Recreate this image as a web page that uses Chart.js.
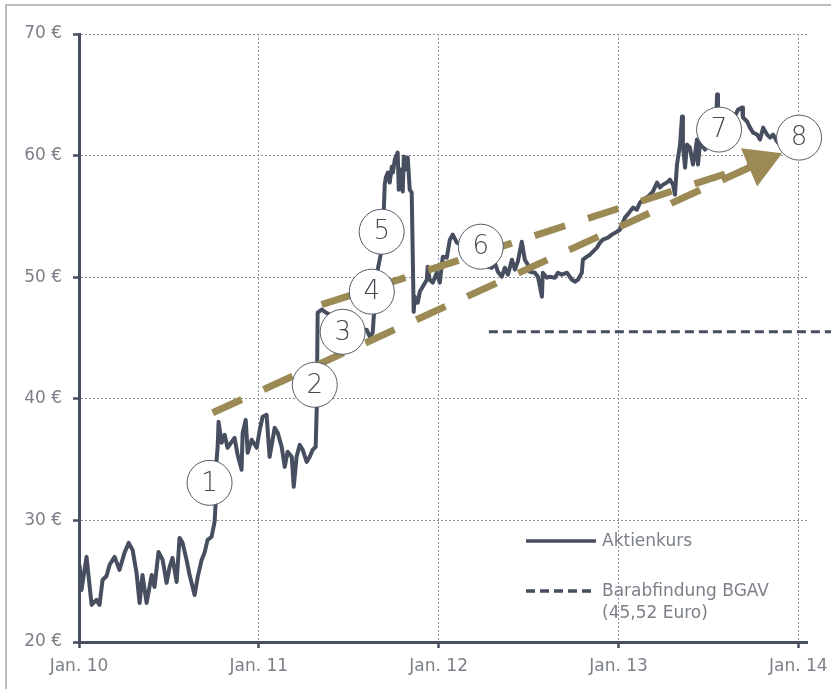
<!DOCTYPE html>
<html>
<head>
<meta charset="utf-8">
<script src="https://cdn.jsdelivr.net/npm/chart.js@4.4.1/dist/chart.umd.min.js"></script>
<style>
html,body{margin:0;padding:0;background:#fff;}
#wrap{position:relative;width:831px;height:689px;overflow:hidden;}
#frame{position:absolute;left:5px;top:4px;width:900px;height:800px;border-left:2px solid #b9bcc3;border-top:2px solid #b9bcc3;}
canvas{position:absolute;left:0;top:0;}
</style>
</head>
<body>
<div id="wrap"><div id="frame"></div><canvas id="c" width="831" height="689"></canvas></div>
<script>
// ---------- DATA ----------
const xTickYears = [2010, 2011, 2012, 2013, 2014];
const xTickLabels = ['Jan. 10', 'Jan. 11', 'Jan. 12', 'Jan. 13', 'Jan. 14'];
const yTickValues = [20, 30, 40, 50, 60, 70];

// Aktienkurs (decimal year, EUR)
const priceDates = [
  2010.003,2010.014,2010.042,2010.070,2010.097,2010.114,2010.131,2010.153,2010.170,2010.198,
  2010.225,2010.253,2010.276,2010.298,2010.320,2010.337,2010.353,2010.376,2010.404,2010.420,
  2010.442,2010.465,2010.487,2010.504,2010.520,2010.543,2010.559,2010.576,2010.598,2010.615,
  2010.643,2010.660,2010.682,2010.698,2010.715,2010.737,2010.754,2010.760,2010.765,2010.771,
  2010.776,2010.793,2010.810,2010.826,2010.849,2010.865,2010.882,2010.904,2010.910,2010.927,
  2010.938,2010.960,2010.988,2011.005,2011.021,2011.043,2011.060,2011.088,2011.105,2011.127,
  2011.144,2011.160,2011.183,2011.194,2011.210,2011.227,2011.244,2011.266,2011.283,2011.299,
  2011.316,2011.322,2011.327,2011.350,2011.366,2011.422,2011.478,2011.533,2011.589,2011.600,
  2011.617,2011.633,2011.639,2011.650,2011.661,2011.672,2011.683,2011.689,2011.695,2011.700,
  2011.706,2011.717,2011.728,2011.739,2011.745,2011.756,2011.772,2011.778,2011.789,2011.800,
  2011.806,2011.822,2011.828,2011.839,2011.850,2011.861,2011.867,2011.884,2011.895,2011.911,
  2011.934,2011.939,2011.950,2011.967,2011.989,2012.006,2012.023,2012.045,2012.062,2012.078,
  2012.101,2012.173,2012.229,2012.273,2012.296,2012.312,2012.329,2012.351,2012.368,2012.385,
  2012.407,2012.424,2012.440,2012.462,2012.479,2012.496,2012.507,2012.535,2012.552,2012.574,
  2012.579,2012.602,2012.618,2012.646,2012.663,2012.685,2012.713,2012.741,2012.757,2012.774,
  2012.796,2012.802,2012.824,2012.841,2012.858,2012.880,2012.897,2012.913,2012.941,2012.963,
  2012.991,2013.008,2013.019,2013.036,2013.063,2013.080,2013.102,2013.119,2013.136,2013.164,
  2013.191,2013.214,2013.230,2013.247,2013.269,2013.286,2013.303,2013.314,2013.325,2013.342,
  2013.353,2013.358,2013.370,2013.381,2013.397,2013.414,2013.425,2013.436,2013.442,2013.453,
  2013.481,2013.509,2013.542,2013.548,2013.553,2013.592,2013.637,2013.665,2013.687,2013.692,
  2013.715,2013.731,2013.748,2013.770,2013.787,2013.804,2013.826,2013.843,2013.859,2013.882,
  2013.898,2013.921
];
const prices = [
  26.34,24.28,27.00,23.05,23.46,23.05,25.10,25.43,26.34,27.00,
  25.93,27.33,28.15,27.57,25.68,23.21,25.51,23.21,25.51,24.53,
  27.41,26.75,24.86,26.17,26.91,24.94,28.56,28.15,26.75,25.51,
  23.87,25.35,26.75,27.33,28.40,28.64,29.88,31.44,34.98,36.05,
  38.11,36.38,37.04,35.97,36.46,36.79,35.39,34.16,37.20,38.27,
  35.56,36.63,35.97,37.45,38.52,38.68,35.23,37.61,37.20,36.05,
  34.40,35.64,35.23,32.76,35.23,36.21,35.80,34.81,35.23,35.80,
  36.05,39.26,47.08,47.33,47.16,46.67,46.09,45.84,45.68,45.68,
  45.10,45.43,46.75,48.50,50.62,51.44,52.26,54.00,55.56,57.61,
  58.19,58.60,57.78,59.09,58.60,59.67,60.25,57.20,58.85,57.04,
  59.92,58.85,59.84,57.20,56.95,47.16,48.40,47.90,48.81,49.22,
  49.79,50.86,49.79,49.55,50.37,49.55,51.69,51.60,53.09,53.50,
  52.84,52.43,51.85,50.86,50.78,51.19,50.45,50.04,50.78,50.21,
  51.44,50.62,51.28,52.92,51.44,51.03,50.45,50.37,50.04,48.40,
  50.37,49.96,50.04,49.96,50.37,50.21,50.37,49.79,49.63,49.79,
  50.37,51.44,51.69,51.85,52.10,52.43,52.84,53.09,53.25,53.50,
  53.74,53.91,54.32,54.90,55.39,55.72,55.56,56.13,56.38,56.63,
  57.04,57.78,57.37,57.61,57.78,58.02,57.61,56.79,59.26,60.91,
  63.21,60.91,59.01,60.91,60.66,59.26,60.08,61.32,59.26,61.07,
  60.49,61.32,62.20,65.02,62.55,62.14,62.96,63.79,63.95,63.13,
  62.80,62.30,61.89,61.73,61.32,62.30,61.73,61.48,61.73,61.15,
  60.91,60.66
];

// Barabfindung BGAV (45,52 Euro)
const cashDates = [2012.279, 2014.19];
const cashValues = [45.52, 45.52];

// Trend arrows
const trendLowerDates = [2010.743, 2013.787];
const trendLowerValues = [38.85, 59.42];
const trendUpperDates = [2011.349, 2013.787];
const trendUpperValues = [47.74, 59.42];
const arrowHeadDates = [2013.787];
const arrowHeadValues = [59.42];

// Numbered markers
const markerLabels = ['1', '2', '3', '4', '5', '6', '7', '8'];
const markerDates = [2010.726, 2011.311, 2011.466, 2011.628, 2011.683, 2012.234, 2013.559, 2014.004];
const markerValues = [33.09, 41.15, 45.51, 48.81, 53.74, 52.51, 62.14, 61.48];

// Legend texts
const legendTexts = [['Aktienkurs'], ['Barabfindung BGAV', '(45,52 Euro)']];

// ---------- STYLE ----------
const DARK = '#474e5f';
const GOLD = '#9c8a55';
const TEXT = '#7b7f88';
const FONT = '"DejaVu Sans", Verdana, sans-serif';

const pts = (xs, ys) => xs.map((x, i) => ({x: x, y: ys[i]}));

const markerLabelPlugin = {
  id: 'markerLabels',
  afterDatasetsDraw(chart) {
    const ctx = chart.ctx;
    const meta = chart.getDatasetMeta(0);
    ctx.save();
    ctx.font = '300 26px ' + FONT;
    ctx.fillStyle = '#45484f';
    ctx.textAlign = 'center';
    ctx.textBaseline = 'middle';
    meta.data.forEach((el, i) => ctx.fillText(markerLabels[i], el.x, el.y + 1));
    ctx.restore();
  }
};

const inlineLegendPlugin = {
  id: 'inlineLegend',
  afterDraw(chart) {
    const ctx = chart.ctx;
    const items = [
      {ds: chart.data.datasets[4], texts: legendTexts[0], y: 541},
      {ds: chart.data.datasets[5], texts: legendTexts[1], y: 591}
    ];
    ctx.save();
    items.forEach(it => {
      ctx.beginPath();
      ctx.lineWidth = 3.5;
      ctx.strokeStyle = it.ds.borderColor;
      ctx.setLineDash(it.ds.borderDash || []);
      ctx.moveTo(526, it.y);
      ctx.lineTo(596, it.y);
      ctx.stroke();
      ctx.setLineDash([]);
      ctx.font = '17px ' + FONT;
      ctx.fillStyle = TEXT;
      ctx.textAlign = 'left';
      ctx.textBaseline = 'middle';
      it.texts.forEach((t, k) => ctx.fillText(t, 602, it.y + 1 + k * 22));
    });
    ctx.restore();
  }
};

new Chart(document.getElementById('c'), {
  type: 'line',
  data: {
    datasets: [
      { // 0 markers
        label: 'Marker', data: pts(markerDates, markerValues), showLine: false,
        pointRadius: 22.5, pointBackgroundColor: '#ffffff', pointBorderColor: '#555b69',
        pointBorderWidth: 1, clip: false
      },
      { // 1 arrow head
        label: 'Pfeil', data: pts(arrowHeadDates, arrowHeadValues), showLine: false,
        pointStyle: 'triangle', pointRadius: 24, pointRotation: 67,
        pointBackgroundColor: GOLD, pointBorderWidth: 0, clip: false
      },
      { // 2 upper trend
        label: 'Trend oben', data: pts(trendUpperDates, trendUpperValues),
        borderColor: GOLD, borderWidth: 7, borderDash: [32, 24], borderCapStyle: 'butt',
        pointRadius: 0, clip: false
      },
      { // 3 lower trend
        label: 'Trend unten', data: pts(trendLowerDates, trendLowerValues),
        borderColor: GOLD, borderWidth: 7, borderDash: [32, 24], borderCapStyle: 'butt',
        pointRadius: 0, clip: false
      },
      { // 4 price
        label: 'Aktienkurs', data: pts(priceDates, prices),
        borderColor: DARK, borderWidth: 4, borderJoinStyle: 'round', pointRadius: 0, tension: 0
      },
      { // 5 cash compensation
        label: 'Barabfindung BGAV (45,52 Euro)', data: pts(cashDates, cashValues),
        borderColor: DARK, borderWidth: 3, borderDash: [9, 5], pointRadius: 0, clip: false
      }
    ]
  },
  options: {
    responsive: false,
    devicePixelRatio: 1,
    animation: false,
    events: [],
    layout: { padding: { top: 34, right: 24, left: 0, bottom: 0 } },
    plugins: { legend: { display: false }, tooltip: { enabled: false } },
    scales: {
      x: {
        type: 'linear', min: 2010, max: 2014.048,
        afterFit(s) { s.height = 47; s.paddingLeft = 0; s.paddingRight = 0; },
        afterBuildTicks(s) { s.ticks = xTickYears.map(v => ({value: v})); },
        ticks: {
          autoSkip: false, maxRotation: 0, padding: 8, color: TEXT,
          font: { family: FONT, size: 17 },
          callback: (v) => xTickLabels[xTickYears.indexOf(v)]
        },
        grid: { color: '#8e939c', lineWidth: 1, tickLength: 6, tickWidth: 2.5, tickColor: DARK },
        border: { color: DARK, width: 3, dash: [2, 2] }
      },
      y: {
        min: 20, max: 70,
        afterFit(s) { s.width = 79; s.paddingTop = 0; s.paddingBottom = 0; },
        afterBuildTicks(s) { s.ticks = yTickValues.map(v => ({value: v})); },
        ticks: {
          padding: 11, color: TEXT, font: { family: FONT, size: 17 },
          callback: (v) => v + ' €'
        },
        grid: { color: '#8e939c', lineWidth: 1, tickLength: 6, tickWidth: 2.5, tickColor: DARK },
        border: { color: DARK, width: 3, dash: [2, 2] }
      }
    }
  },
  plugins: [markerLabelPlugin, inlineLegendPlugin]
});
</script>
</body>
</html>
